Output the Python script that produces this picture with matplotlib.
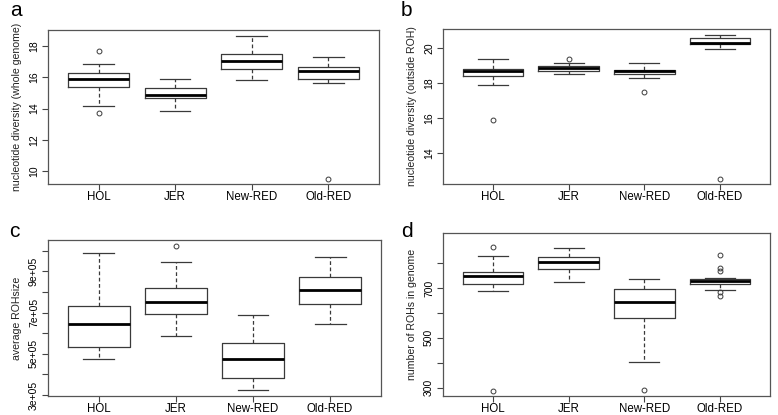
import matplotlib.pyplot as plt
import numpy as np

plt.rcParams['font.family'] = ['Liberation Sans', 'DejaVu Sans']

groups = ['HOL', 'JER', 'New-RED', 'Old-RED']

# nucleotide diversity, whole genome
a_q1 = [15.4, 14.65, 16.5, 15.9]
a_med = [15.9, 14.9, 17.05, 16.4]
a_q3 = [16.25, 15.3, 17.5, 16.65]
a_lo = [14.2, 13.85, 15.8, 15.65]
a_hi = [16.85, 15.9, 18.65, 17.3]
a_out = [[17.7, 13.7], [], [], [9.5]]

# nucleotide diversity, outside ROH
b_q1 = [18.40, 18.68, 18.51, 20.19]
b_med = [18.70, 18.83, 18.66, 20.28]
b_q3 = [18.78, 18.97, 18.76, 20.57]
b_lo = [17.89, 18.49, 18.28, 19.91]
b_hi = [19.35, 19.16, 19.12, 20.72]
b_out = [[15.88], [19.36], [17.47], [12.54]]

# average ROH size
c_q1 = [5.32e5, 6.92e5, 3.84e5, 7.42e5]
c_med = [6.45e5, 7.52e5, 4.75e5, 8.11e5]
c_q3 = [7.34e5, 8.17e5, 5.51e5, 8.74e5]
c_lo = [4.75e5, 5.88e5, 3.23e5, 6.42e5]
c_hi = [9.87e5, 9.43e5, 6.87e5, 9.71e5]
c_out = [[], [1.021e6], [], []]

# number of ROHs
d_q1 = [715, 777, 578, 716]
d_med = [747, 805, 643, 727]
d_q3 = [766, 825, 696, 736]
d_lo = [687, 723, 404, 694]
d_hi = [827, 860, 738, 740]
d_out = [[866, 288], [], [289], [833, 782, 767, 683, 667]]

panels = [
    ('a', [0.0617, 0.5566, 0.4254, 0.3711], (10, 16), a_q1, a_med, a_q3, a_lo, a_hi, a_out,
     (9.19, 19.02), [10, 12, 14, 16, 18], [10, 12, 14, 16, 18],
     'nucleotide diversity (whole genome)'),
    ('b', [0.5694, 0.5573, 0.4203, 0.3720], (401, 16), b_q1, b_med, b_q3, b_lo, b_hi, b_out,
     (12.26, 21.05), [14, 16, 18, 20], [14, 16, 18, 20],
     'nucleotide diversity (outside ROH)'),
    ('c', [0.0617, 0.0458, 0.4280, 0.3759], (9, 237), c_q1, c_med, c_q3, c_lo, c_hi, c_out,
     (2.95e5, 1.052e6), [3e5, 4e5, 5e5, 6e5, 7e5, 8e5, 9e5, 1e6],
     ['3e+05', '', '5e+05', '', '7e+05', '', '9e+05', ''],
     'average ROHsize'),
    ('d', [0.5694, 0.0458, 0.4203, 0.3920], (401, 237), d_q1, d_med, d_q3, d_lo, d_hi, d_out,
     (266.5, 920), [300, 400, 500, 600, 700, 800],
     ['300', '', '500', '', '700', ''],
     'number of ROHs in genome'),
]

fig = plt.figure(figsize=(7.78, 4.15), dpi=100)

for letter, rect, lpos, q1, med, q3, lo, hi, out, ylim, yt, ytl, ylab in panels:
    ax = fig.add_axes(rect)
    stats = []
    for i in range(4):
        stats.append({'q1': q1[i], 'med': med[i], 'q3': q3[i],
                      'whislo': lo[i], 'whishi': hi[i], 'fliers': out[i]})
    ax.bxp(stats, positions=[1, 2, 3, 4], widths=0.8,
           boxprops=dict(color='#3a3a3a', linewidth=0.9),
           medianprops=dict(color='black', linewidth=2.0),
           whiskerprops=dict(color='#3a3a3a', linewidth=0.9, linestyle=(0, (3, 2))),
           capprops=dict(color='#3a3a3a', linewidth=0.9),
           flierprops=dict(marker='o', markersize=3.5, markerfacecolor='none',
                           markeredgecolor='#3a3a3a', markeredgewidth=0.7),
           capwidths=0.4)
    ax.set_xlim(0.34, 4.66)
    ax.set_ylim(*ylim)
    ax.set_xticks([1, 2, 3, 4])
    ax.set_xticklabels(groups, fontsize=8.3)
    ax.set_yticks(yt)
    ax.set_yticklabels(ytl, fontsize=7.5, rotation=90, va='center')
    ax.set_ylabel(ylab, fontsize=7.6, color='#222222', labelpad=5)
    ax.tick_params(direction='out', length=4, width=0.8, color='#444444', pad=2.5)
    ax.tick_params(axis='x', pad=1.2)
    for s in ax.spines.values():
        s.set_color('#555555')
        s.set_linewidth(0.9)
    fig.text(lpos[0] / 778, 1 - lpos[1] / 415, letter, fontsize=15,
             ha='left', va='baseline')

fig.savefig('out.png', dpi=100)
